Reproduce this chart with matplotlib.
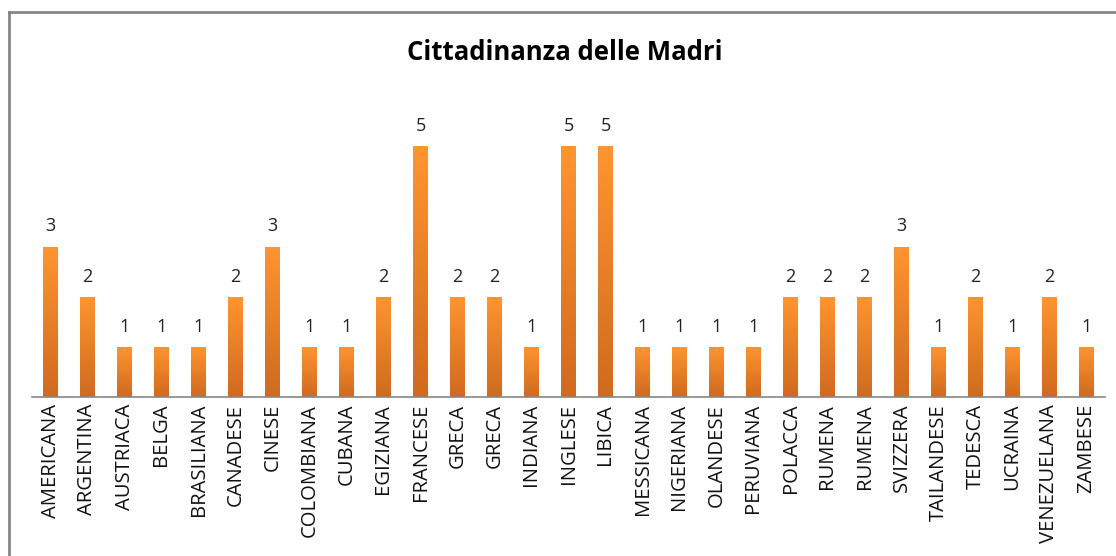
import matplotlib
matplotlib.use("Agg")
import matplotlib.pyplot as plt
import numpy as np
from matplotlib.colors import LinearSegmentedColormap
from matplotlib.lines import Line2D

categories = ["AMERICANA", "ARGENTINA", "AUSTRIACA", "BELGA", "BRASILIANA", "CANADESE",
              "CINESE", "COLOMBIANA", "CUBANA", "EGIZIANA", "FRANCESE", "GRECA", "GRECA",
              "INDIANA", "INGLESE", "LIBICA", "MESSICANA", "NIGERIANA", "OLANDESE",
              "PERUVIANA", "POLACCA", "RUMENA", "RUMENA", "SVIZZERA", "TAILANDESE",
              "TEDESCA", "UCRAINA", "VENEZUELANA", "ZAMBESE"]
values = [3, 2, 1, 1, 1, 2, 3, 1, 1, 2, 5, 2, 2, 1, 5, 5, 1, 1, 1, 1, 2, 2, 2, 3, 1, 2, 1, 2, 1]
title = "Cittadinanza delle Madri"

plt.rcParams['font.family'] = ['Open Sans', 'DejaVu Sans']

W, H = 1116, 556
fig = plt.figure(figsize=(W / 100, H / 100), dpi=100)
ax = fig.add_axes([32 / W, (H - 397) / H, (1105 - 32) / W, (397 - 96) / H])

n = len(categories)
x = np.arange(n)
bars = ax.bar(x, values, width=0.38, color="none", edgecolor="none")

cmap = LinearSegmentedColormap.from_list("og", ["#D06A1E", "#FF9530"])
grad = np.linspace(0, 1, 256).reshape(-1, 1)
for b in bars:
    bx, by = b.get_x(), b.get_y()
    bw, bh = b.get_width(), b.get_height()
    im = ax.imshow(grad, extent=[bx, bx + bw, by, by + bh], origin="lower",
                   cmap=cmap, aspect="auto", zorder=2)
    im.set_clip_path(b)

for xi, v in zip(x, values):
    ax.annotate(str(v), (xi, v), xytext=(0, 14.5), textcoords="offset points",
                ha="center", va="center", fontsize=13, color="#222222")

ax.set_xlim(-0.5, n - 0.5)
ax.set_ylim(0, 6)
ax.set_xticks(x)
ax.set_xticklabels(categories, rotation=90, fontsize=14.6, color="#111111")
ax.tick_params(axis="x", length=0, pad=5)
ax.set_yticks([])
for s in ["top", "right", "left"]:
    ax.spines[s].set_visible(False)
ax.spines["bottom"].set_color("#868686")
ax.spines["bottom"].set_linewidth(1.2)

fig.text(565 / W, 1 - 52 / H, title, ha="center", va="center",
         fontsize=18.5, fontweight="bold", color="#000000")

# chart border (left and top edges visible in the crop)
fig.add_artist(Line2D([9 / W, 9 / W], [0, 1 - 12 / H], transform=fig.transFigure,
                      color="#868686", lw=2))
fig.add_artist(Line2D([9 / W, 1], [1 - 12 / H, 1 - 12 / H], transform=fig.transFigure,
                      color="#868686", lw=2))

fig.savefig("out.png", dpi=100)
